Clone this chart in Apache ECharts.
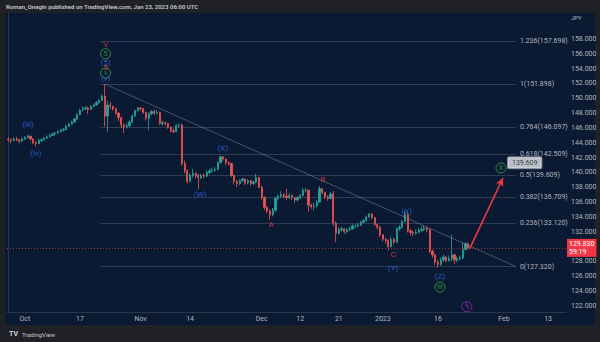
<!DOCTYPE html>
<html><head><meta charset="utf-8">
<script src="https://cdn.jsdelivr.net/npm/echarts@6/dist/echarts.min.js"></script>
<style>html,body{margin:0;padding:0;background:#1f2127;}#c{width:600px;height:342px;}</style>
</head><body><div id="c"></div>
<script>
// ---------- DATA ----------
const symbolCcy = 'JPY';
const firstOpen = 144.5;
const closes = [
144.4,144.3,144.5,144.4,144.2,144.5,144.7,144.9,144.5,144.0,
143.9,144.3,144.4,144.6,144.8,145.0,145.2,145.3,145.5,145.7,
145.8,146.2,146.5,146.8,147.2,147.8,148.4,148.6,148.7,148.5,
148.9,149.1,149.4,149.7,150.3,147.6,149.1,148.9,148.6,148.0,
147.4,146.4,146.2,146.3,146.8,147.6,148.3,148.7,148.6,148.1,
147.3,147.9,148.2,148.0,148.1,146.6,146.7,146.6,146.1,145.6,
145.5,146.3,146.4,141.2,140.2,138.8,139.6,139.9,139.6,139.3,
139.6,139.5,140.0,140.2,140.3,140.4,141.3,142.1,141.8,141.3,
141.2,139.6,138.8,138.5,138.9,139.1,138.6,138.9,138.5,138.7,
139.3,138.0,136.6,135.3,134.8,134.3,134.9,136.5,136.8,137.0,
136.8,136.6,136.9,136.6,136.3,136.6,136.9,137.6,137.6,135.6,
135.4,135.5,136.0,137.8,137.3,136.7,136.5,137.1,133.2,131.8,
132.3,132.4,132.0,132.3,132.4,132.8,132.8,132.9,133.3,133.5,
134.0,134.4,133.9,133.0,132.6,131.6,131.0,130.8,130.0,131.0,
130.6,132.4,132.6,133.4,134.3,132.1,131.9,131.8,131.9,132.2,
132.3,132.5,132.3,129.4,128.9,127.9,127.6,128.2,128.6,128.1,
128.4,128.9,128.2,128.4,128.5,129.6,130.4,129.83];
const highs = [
144.8,144.6,144.7,144.8,144.5,144.7,144.9,145.1,144.9,144.6,
144.2,144.5,144.6,144.8,145.0,145.2,145.4,145.5,145.7,145.9,
146.0,146.4,146.7,147.0,147.4,148.0,148.6,148.9,148.9,148.9,
149.1,149.3,149.6,149.9,150.5,151.9,149.7,149.5,149.0,148.7,
148.1,147.5,146.6,146.6,147.0,147.8,148.5,148.8,148.8,148.7,
148.2,148.1,148.4,148.5,148.4,148.2,147.0,146.9,146.7,146.2,
145.9,146.5,146.6,146.6,141.6,140.4,139.9,140.5,140.0,139.8,
139.8,139.9,140.3,140.5,140.6,140.7,141.5,142.3,142.2,141.9,
141.5,141.3,139.7,139.0,139.1,139.3,139.2,139.1,139.0,138.9,
139.8,139.4,138.2,136.8,135.5,135.0,135.2,136.7,137.0,137.5,
137.2,137.8,137.2,137.0,136.7,136.8,137.1,137.9,137.9,137.7,
135.8,135.9,136.3,138.2,137.9,137.4,136.9,137.4,137.5,133.4,
132.6,132.7,132.5,132.5,132.7,133.0,133.0,133.2,133.5,133.7,
134.2,134.5,134.5,134.0,133.1,132.8,131.7,131.2,131.0,131.3,
131.2,132.6,132.9,133.6,134.8,134.6,132.4,132.2,132.3,132.5,
132.7,132.9,132.7,132.4,129.6,129.0,128.2,128.5,128.9,128.7,
128.8,131.6,129.0,128.7,128.8,130.6,130.6,130.5];
const lows = [
144.1,143.9,144.2,144.2,143.9,144.1,144.4,144.6,144.3,143.8,
143.5,143.8,144.1,144.3,144.5,144.7,144.9,145.0,145.2,145.4,
145.5,145.7,146.1,146.4,146.7,147.1,147.7,148.2,148.4,147.9,
148.4,148.8,149.0,149.3,149.6,146.2,145.5,148.5,148.3,147.8,
146.9,146.0,145.3,145.9,146.1,146.7,147.5,148.2,148.3,147.9,
147.0,145.7,147.7,147.7,147.8,146.4,146.3,146.3,145.9,145.4,
145.3,145.4,146.0,140.9,139.9,138.5,138.7,139.3,139.2,137.7,
139.1,139.2,139.4,139.8,140.0,140.1,140.3,141.2,141.5,141.0,
140.9,139.4,138.4,138.0,138.3,138.7,138.3,138.4,138.2,138.3,
138.6,137.9,136.3,135.0,134.5,133.6,134.1,134.7,136.2,136.6,
136.5,136.3,136.4,136.3,135.9,136.1,136.4,136.8,137.3,134.7,
135.1,134.9,135.3,135.9,137.0,136.4,136.2,136.4,132.8,130.6,
131.6,132.0,131.7,131.8,132.1,132.3,132.5,132.6,132.8,133.1,
133.4,133.9,133.7,132.8,132.3,131.3,130.7,130.4,129.5,129.9,
130.3,130.5,132.1,132.5,133.3,131.9,131.5,131.4,131.6,131.8,
132.0,132.1,131.9,129.1,128.5,127.5,127.2,127.4,128.0,127.9,
128.0,128.0,127.6,127.9,128.1,128.3,129.5,129.6];

const firstBarDate = '2022-09-28';
const totalBars = 203;               // 12h bars incl. empty future space
const tickDates  = ['2022-10-03','2022-10-17','2022-11-01','2022-11-14','2022-12-01','2022-12-12','2022-12-21','2023-01-02','2023-01-16','2023-02-01','2023-02-13'];
const tickLabels = ['Oct','17','Nov','14','Dec','12','21','2023','16','Feb','13'];
// 130.000 is hidden under the last-price tag in the reference
const priceTicks = [122,124,126,128,132,134,136,138,140,142,144,146,148,150,152,154,156,158];

const lastPrice = 129.830;
const countdown = '59:19';

const fibLevels = ['1.236','1','0.764','0.618','0.5','0.382','0.236','0'];
const fibPrices = [157.698,151.898,146.097,142.509,139.609,136.709,133.120,127.320];
const fibFromBar = 33.3, fibToBar = 184.3;          // fib drawing anchors (bar index)
const trendFrom = [35.1, 151.898], trendTo = [184.3, 127.320];
const arrowFrom = [167.5, 129.7], arrowTo = [179.6, 139.25];
const targetLabel = ['139.609', 187.5, 141.3];

// wave labels: [text, bar index, price, kind]
const waveLabels = [
 ['(iii)', 7.1, 146.5, 'blue'],
 ['(iv)', 10.0, 142.6, 'blue'],
 ['V', 35.3, 157.2, 'red'],
 ['5', 35.3, 156.0, 'circle'],
 ['(5)', 35.3, 154.8, 'blue'],
 ['5', 35.3, 154.1, 'red'],
 ['v', 35.3, 153.4, 'circle'],
 ['(v)', 35.3, 152.6, 'blue'],
 ['(W)', 69.6, 137.0, 'blue'],
 ['(X)', 77.9, 143.2, 'blue'],
 ['A', 95.4, 133.0, 'red'],
 ['B', 114.2, 139.0, 'red'],
 ['C', 139.7, 128.9, 'red'],
 ['(Y)', 139.7, 127.1, 'blue'],
 ['(X)', 144.7, 134.7, 'blue'],
 ['(Z)', 156.7, 126.0, 'blue'],
 ['W', 156.7, 124.55, 'circle'],
 ['X', 178.9, 140.6, 'circle']
];
const eventMarker = [166.5, 121.9];

// ---------- BUILD ----------
function buildBars(){
  const out=[]; const p=firstBarDate.split('-').map(Number);
  const d=new Date(Date.UTC(p[0],p[1]-1,p[2]));
  while(out.length<totalBars){
    const wd=d.getUTCDay();
    if(wd!==0&&wd!==6){const s=d.toISOString().slice(0,10); out.push(s+' 00'); out.push(s+' 12');}
    d.setUTCDate(d.getUTCDate()+1);
  }
  return out.slice(0,totalBars);
}
const bars = buildBars();
const tickMap = {}; tickDates.forEach((t,i)=>tickMap[t+' 00']=tickLabels[i]);
const candles = closes.map((c,i)=>{
  const o = i===0?firstOpen:closes[i-1];
  return [o,c,Math.min(lows[i],o,c),Math.max(highs[i],o,c)];
});

const FONT = 'Roboto, "Noto Sans", sans-serif';
const UP='#26a69a', DOWN='#ef5350';
const colors = {blue:'#2f6be0', red:'#e8393f', circle:'#43a047'};
const CLEAR = 'rgba(0,0,0,0)';

const labelData = waveLabels.map(w=>{
  const isC = w[3]==='circle';
  return {
    value:[w[1],w[2]], name:w[0],
    symbol:'circle', symbolSize: isC?10:1,
    itemStyle:{color:CLEAR, borderColor: isC?colors.circle:CLEAR, borderWidth: isC?1:0},
    label:{show:true, position:'inside', formatter:w[0], color:colors[w[3]], fontSize: isC?7:8, fontFamily:FONT}
  };
});
labelData.push({
  value:eventMarker, name:'event', symbol:'circle', symbolSize:10,
  itemStyle:{color:CLEAR, borderColor:'#9c27b0', borderWidth:1},
  label:{show:true, position:'inside', formatter:'ϟ', color:'#b83bd0', fontSize:8, fontFamily:'DejaVu Sans'}
});
labelData.push({
  value:[targetLabel[1],targetLabel[2]], name:'target', symbol:'circle', symbolSize:1,
  itemStyle:{color:CLEAR, borderWidth:0},
  label:{show:true, position:'inside', formatter:targetLabel[0], color:'#131722', fontSize:7, fontFamily:FONT,
    backgroundColor:'#e6e8ee', borderColor:'#9598a1', borderWidth:1, borderRadius:1, padding:[2,4]}
});

const fibLines = fibLevels.map((lv,i)=>[
  {name: lv+'('+fibPrices[i].toFixed(3)+')', coord:[fibFromBar,fibPrices[i]]},
  {coord:[fibToBar,fibPrices[i]]}
]);
fibLines.push([{name:'', coord:trendFrom, label:{show:false}, lineStyle:{color:'rgba(150,155,170,0.45)'}},{coord:trendTo}]);

const chart = echarts.init(document.getElementById('c'), null, {renderer:'svg', width:600, height:342});
chart.setOption({
  animation:false,
  backgroundColor:'#1f2127',
  textStyle:{fontFamily:FONT},
  graphic:[
    {type:'rect', z:-10, silent:true, shape:{x:5,y:13,width:590,height:312}, style:{fill:'#0b1a33'}},
    {type:'text', left:6, top:3, style:{text:'Roman_Onegin published on TradingView.com, Jan 23, 2023 06:00 UTC', fill:'#c8cad2', font:'600 6px '+FONT}},
    {type:'text', left:571, top:14, style:{text:symbolCcy, fill:'#b2b5be', font:'6px '+FONT}},
    {type:'text', left:9, top:330, style:{text:'TV', fill:'#d1d4dc', font:'bold 7px '+FONT}},
    {type:'text', left:22, top:331, style:{text:'TradingView', fill:'#c8cad2', font:'6px '+FONT}}
  ],
  grid:{left:7, right:34, top:13, bottom:30},
  xAxis:[
    {type:'category', data:bars, boundaryGap:true,
     axisLine:{show:true, lineStyle:{color:'rgba(255,255,255,0.12)'}},
     axisTick:{show:false}, splitLine:{show:false},
     axisLabel:{interval:(i,v)=>tickMap[v]!==undefined, formatter:v=>tickMap[v]||'', color:'#b2b5be', fontSize:7, margin:3, fontFamily:FONT}},
    {type:'value', min:-0.5, max:totalBars-0.5, show:false}
  ],
  yAxis:{type:'value', position:'right', min:121.19, max:161.49, scale:true,
    axisLine:{show:true, lineStyle:{color:'rgba(255,255,255,0.12)'}},
    axisTick:{show:false}, splitLine:{show:false},
    axisLabel:{customValues:priceTicks, formatter:v=>v.toFixed(3), color:'#b2b5be', fontSize:7, margin:5, fontFamily:FONT}},
  series:[
    {type:'candlestick', xAxisIndex:0, data:candles, barWidth:'62%',
     itemStyle:{color:UP, color0:DOWN, borderColor:UP, borderColor0:DOWN, borderWidth:0.8},
     markLine:{symbol:'none', silent:true,
       lineStyle:{type:[1,2], color:'rgba(239,83,80,0.6)', width:1},
       label:{show:true, position:'end', distance:1, formatter:lastPrice.toFixed(3)+'\n'+countdown,
         backgroundColor:'#f23645', color:'#ffffff', fontSize:7, lineHeight:8, padding:[1,2], fontFamily:FONT},
       data:[{yAxis:lastPrice}]}},
    {type:'line', xAxisIndex:1, data:[], silent:true,
     markLine:{symbol:'none', silent:true,
       lineStyle:{type:'solid', color:'rgba(120,125,140,0.35)', width:1},
       label:{show:true, position:'end', distance:4, formatter:p=>p.name, color:'#b2b5be', fontSize:7, fontFamily:FONT},
       data:fibLines}},
    {type:'line', xAxisIndex:1, data:[arrowFrom, arrowTo], showSymbol:false, lineStyle:{width:0, opacity:0}, silent:true,
     markLine:{symbol:['none','arrow'], symbolSize:[6,8], silent:true,
       lineStyle:{type:'solid', color:'#f23645', width:1.6},
       label:{show:false},
       data:[[{coord:arrowFrom},{coord:arrowTo}]]}},
    {type:'scatter', xAxisIndex:1, data:labelData, silent:true, z:5}
  ]
});
</script>
</body></html>
